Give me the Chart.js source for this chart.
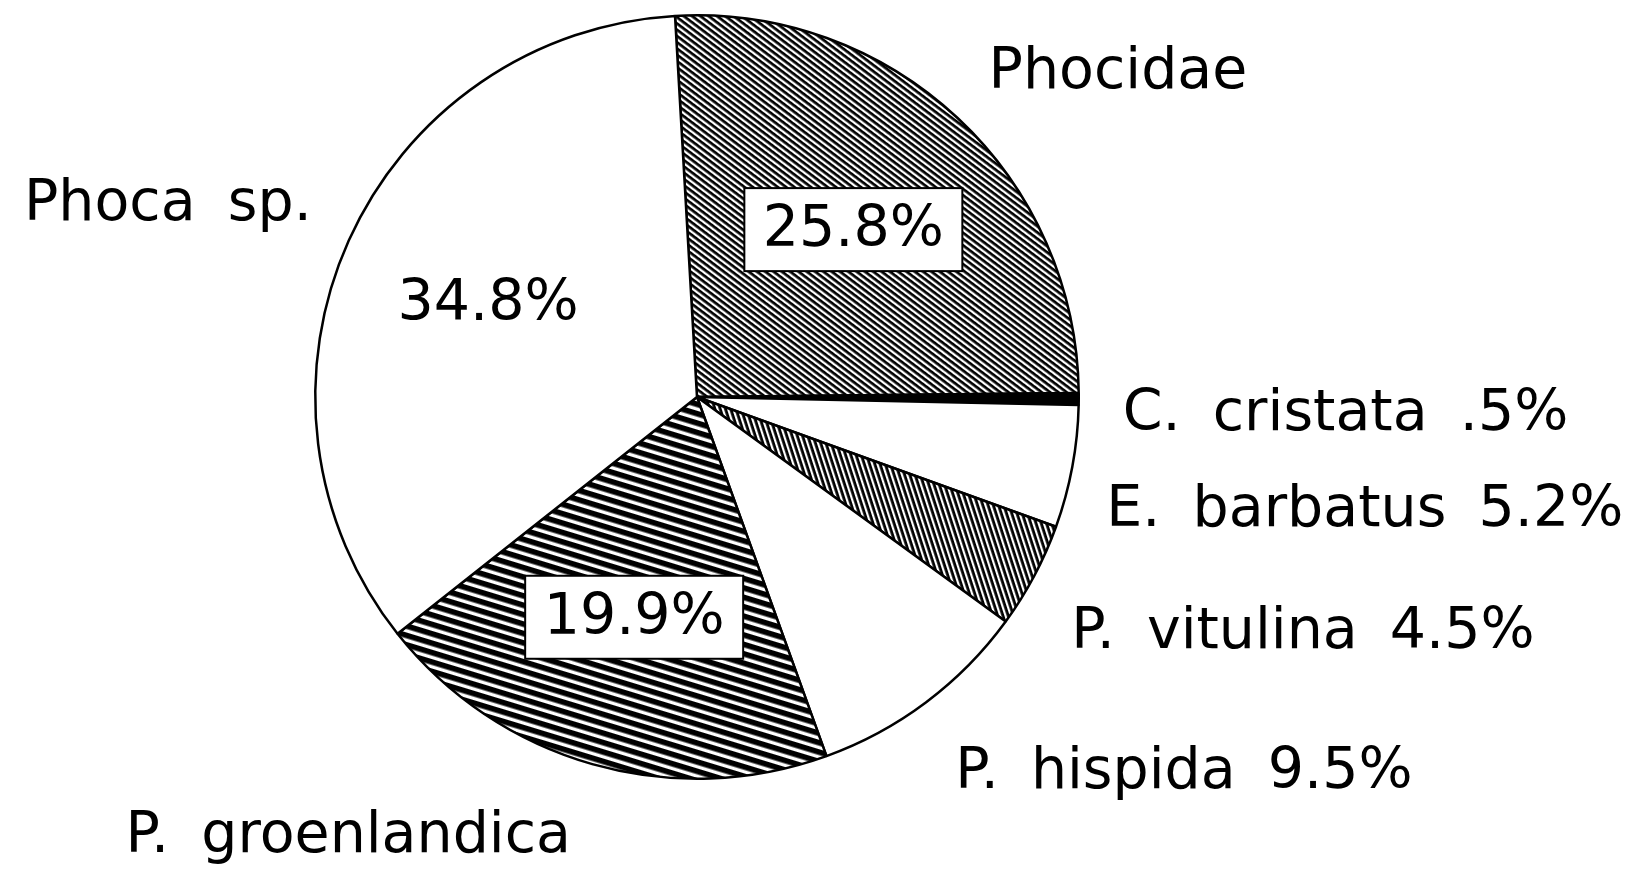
<!DOCTYPE html>
<html>
<head>
<meta charset="utf-8">
<script src="https://cdn.jsdelivr.net/npm/chart.js@4.4.1/dist/chart.umd.min.js"></script>
<style>
  html, body { margin: 0; padding: 0; background: #fff; }
  #wrap { width: 1633px; height: 869px; position: relative; }
</style>
</head>
<body>
<div id="wrap"><canvas id="pieChart"></canvas></div>
<script>
/* ================= DATA ================= */
const categories = ["Phocidae", "C. cristata", "E. barbatus", "P. vitulina", "P. hispida", "P. groenlandica", "Phoca sp."];
const percents = [25.8, 0.5, 5.2, 4.5, 9.5, 19.9, 34.8];

/* ================= LAYOUT / STYLE ================= */
// how each slice is labelled: name outside + value in a box inside, etc.
const labelModes = ["box", "outside", "outside", "outside", "outside", "box", "plain"];
// outside label offset from the slice's outer mid-point [dx, dy, align]
const nameOffsets = [
  [31, -30, "left"],
  [44, 31, "left"],
  [34, 59, "left"],
  [37, 72, "left"],
  [29, 86, "left"],
  [-244, 88, "center"],
  [-37, -21, "right"]
];
const FONT = "57px 'DejaVu Sans'";

/* ================= PATTERNS ================= */
function hatch(spacing, thick, angle) {
  const c = document.createElement("canvas");
  c.width = 16;
  c.height = spacing;
  const g = c.getContext("2d");
  g.fillStyle = "#fff";
  g.fillRect(0, 0, c.width, c.height);
  g.fillStyle = "#000";
  g.fillRect(0, 0, c.width, thick);
  const p = g.createPattern(c, "repeat");
  p.setTransform(new DOMMatrix().rotate(angle));
  return p;
}

const fills = [
  hatch(5, 2.7, 37),      // Phocidae
  "#000",                 // C. cristata
  "#fff",                 // E. barbatus
  hatch(5, 2.8, 72),      // P. vitulina
  "#fff",                 // P. hispida
  hatch(9, 5.6, 17),      // P. groenlandica
  "#fff"                  // Phoca sp.
];

function fmtPct(v) {
  return (v < 1 ? String(v).replace(/^0/, "") : v.toFixed(1)) + "%";
}

/* ================= LABEL PLUGIN ================= */
const sliceLabels = {
  id: "sliceLabels",
  afterDatasetsDraw(chart) {
    const ctx = chart.ctx;
    const arcs = chart.getDatasetMeta(0).data;
    ctx.save();
    ctx.font = FONT;
    ctx.wordSpacing = "14px";
    ctx.fillStyle = "#000";
    arcs.forEach((arc, i) => {
      const { x, y, startAngle, endAngle, outerRadius } = arc.getProps(["x", "y", "startAngle", "endAngle", "outerRadius"], true);
      const mid = (startAngle + endAngle) / 2;
      const mode = labelModes[i];
      const pct = fmtPct(percents[i]);

      if (mode === "box" || mode === "plain") {
        const cx = x + Math.cos(mid) * outerRadius * 0.6;
        const cy = y + Math.sin(mid) * outerRadius * 0.6;
        if (mode === "box") {
          const w = 218, h = 83;
          ctx.fillStyle = "#fff";
          ctx.fillRect(cx - w / 2, cy - h / 2, w, h);
          ctx.lineWidth = 2;
          ctx.strokeStyle = "#000";
          ctx.strokeRect(cx - w / 2, cy - h / 2, w, h);
          ctx.fillStyle = "#000";
        }
        ctx.textAlign = "center";
        ctx.textBaseline = "middle";
        ctx.fillText(pct, cx, cy + 2);
      }

      const px = x + Math.cos(mid) * outerRadius;
      const py = y + Math.sin(mid) * outerRadius;
      const off = nameOffsets[i];
      const text = mode === "outside" ? categories[i] + " " + pct : categories[i];
      ctx.textAlign = off[2];
      ctx.textBaseline = "alphabetic";
      ctx.fillText(text, px + off[0], py + off[1]);
    });
    ctx.restore();
  }
};

/* ================= CHART ================= */
new Chart(document.getElementById("pieChart"), {
  type: "pie",
  data: {
    labels: categories,
    datasets: [{
      data: percents,
      backgroundColor: fills,
      borderColor: "#000",
      borderWidth: 2.5
    }]
  },
  options: {
    responsive: true,
    maintainAspectRatio: false,
    animation: false,
    rotation: -3.3,
    layout: { padding: { left: 314, right: 553, top: 14, bottom: 89 } },
    plugins: {
      legend: { display: false },
      tooltip: { enabled: false }
    }
  },
  plugins: [sliceLabels]
});
</script>
</body>
</html>
